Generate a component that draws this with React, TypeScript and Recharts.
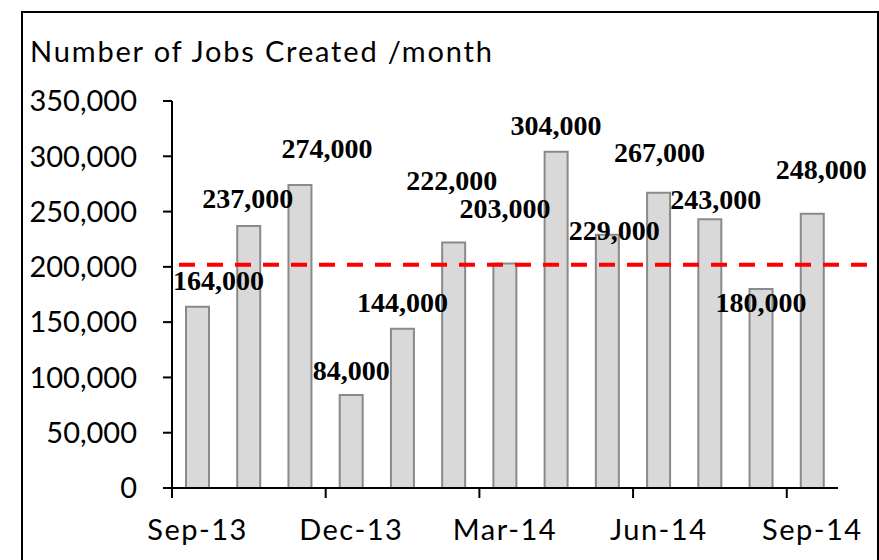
import { Bar, BarChart, LabelList, ReferenceLine, XAxis, YAxis } from 'recharts'

const months = [
  'Sep-13', 'Oct-13', 'Nov-13', 'Dec-13', 'Jan-14', 'Feb-14', 'Mar-14',
  'Apr-14', 'May-14', 'Jun-14', 'Jul-14', 'Aug-14', 'Sep-14',
]
const jobs = [
  164000, 237000, 274000, 84000, 144000, 222000, 203000,
  304000, 229000, 267000, 243000, 180000, 248000,
]
const threshold = 202000
const yTicks = [0, 50000, 100000, 150000, 200000, 250000, 300000, 350000]

// label nudges (dx, dy) relative to top centre of each bar, as in the original
const labelOffsets = [
  [21, -26], [-1, -27], [27, -37], [0, -25], [0, -26], [-2, -62], [0, -55],
  [0, -26], [7, -4], [1, -40], [6, -20], [0, 14], [9, -44],
]

const data = months.map((m, i) => ({ month: m, jobs: jobs[i] }))

const W = 879
const H = 560
const Y_AXIS_W = 172
const RIGHT = 41
const STEP = (W - Y_AXIS_W - RIGHT) / months.length
const SANS = 'Lato, "Open Sans", sans-serif'
const SERIF = '"Liberation Serif", "Times New Roman", serif'

const fmt = (v: number) => v.toLocaleString('en-US')

function XTick(props: any) {
  const { x, y, payload } = props
  const axisY = y - 10
  return (
    <g>
      <line x1={x - STEP / 2} x2={x - STEP / 2} y1={axisY} y2={axisY + 10} stroke="#000" strokeWidth={2} />
      <text x={x} y={axisY + 52} textAnchor="middle" fontFamily={SANS} fontSize={29} letterSpacing={1.5} fill="#000">
        {payload.value}
      </text>
    </g>
  )
}

function BarLabel(props: any) {
  const vb = props.viewBox ?? props
  const x = Number(props.x ?? vb.x)
  const y = Number(props.y ?? vb.y)
  const width = Number(props.width ?? vb.width)
  const [dx, dy] = labelOffsets[props.index] ?? [0, -26]
  return (
    <text
      x={x + width / 2 + dx}
      y={y + dy}
      textAnchor="middle"
      dominantBaseline="central"
      fontFamily={SERIF}
      fontWeight="bold"
      fontSize={28}
      fill="#000"
    >
      {fmt(Number(props.value))}
    </text>
  )
}

function ThresholdLine(props: any) {
  const { x1, y1, x2 } = props
  return (
    <line x1={x1 + 7} x2={x2 + 29} y1={y1} y2={y1} stroke="#ff0000" strokeWidth={4} strokeDasharray="16 12" />
  )
}

export default function App() {
  return (
    <div style={{ position: 'absolute', left: 0, top: 0, width: W, height: H, overflow: 'hidden', background: '#fff' }}>
      <div
        style={{
          position: 'absolute',
          left: 21,
          top: 11,
          width: W - 21,
          height: H - 11,
          border: '2px solid #000',
          borderBottom: 'none',
          boxSizing: 'border-box',
        }}
      />
      <svg style={{ position: 'absolute', left: 0, top: 0 }} width={W} height={80}>
        <text x={30} y={62} fontFamily={SANS} fontSize={29} textLength={462} lengthAdjust="spacing" fill="#000">
          Number of Jobs Created /month
        </text>
      </svg>
      <div style={{ position: 'absolute', left: 0, top: 0 }}>
        <BarChart width={W} height={H} data={data} margin={{ top: 101, right: RIGHT, bottom: 0, left: 0 }}>
          <XAxis
            dataKey="month"
            interval={2}
            height={72}
            tickSize={10}
            tickMargin={0}
            tickLine={false}
            axisLine={{ stroke: '#000', strokeWidth: 2 }}
            tick={<XTick />}
          />
          <YAxis
            width={Y_AXIS_W}
            domain={[0, 350000]}
            ticks={yTicks}
            tickFormatter={fmt}
            tickSize={9}
            tickMargin={26}
            axisLine={{ stroke: '#000', strokeWidth: 2 }}
            tickLine={{ stroke: '#000', strokeWidth: 2 }}
            tick={{ fill: '#000', fontSize: 29, fontFamily: SANS }}
          />
          <Bar dataKey="jobs" fill="#d9d9d9" stroke="#8a8a8a" strokeWidth={2} barSize={23} isAnimationActive={false}>
            <LabelList dataKey="jobs" content={<BarLabel />} />
          </Bar>
          <ReferenceLine y={threshold} shape={<ThresholdLine />} />
        </BarChart>
      </div>
    </div>
  )
}
